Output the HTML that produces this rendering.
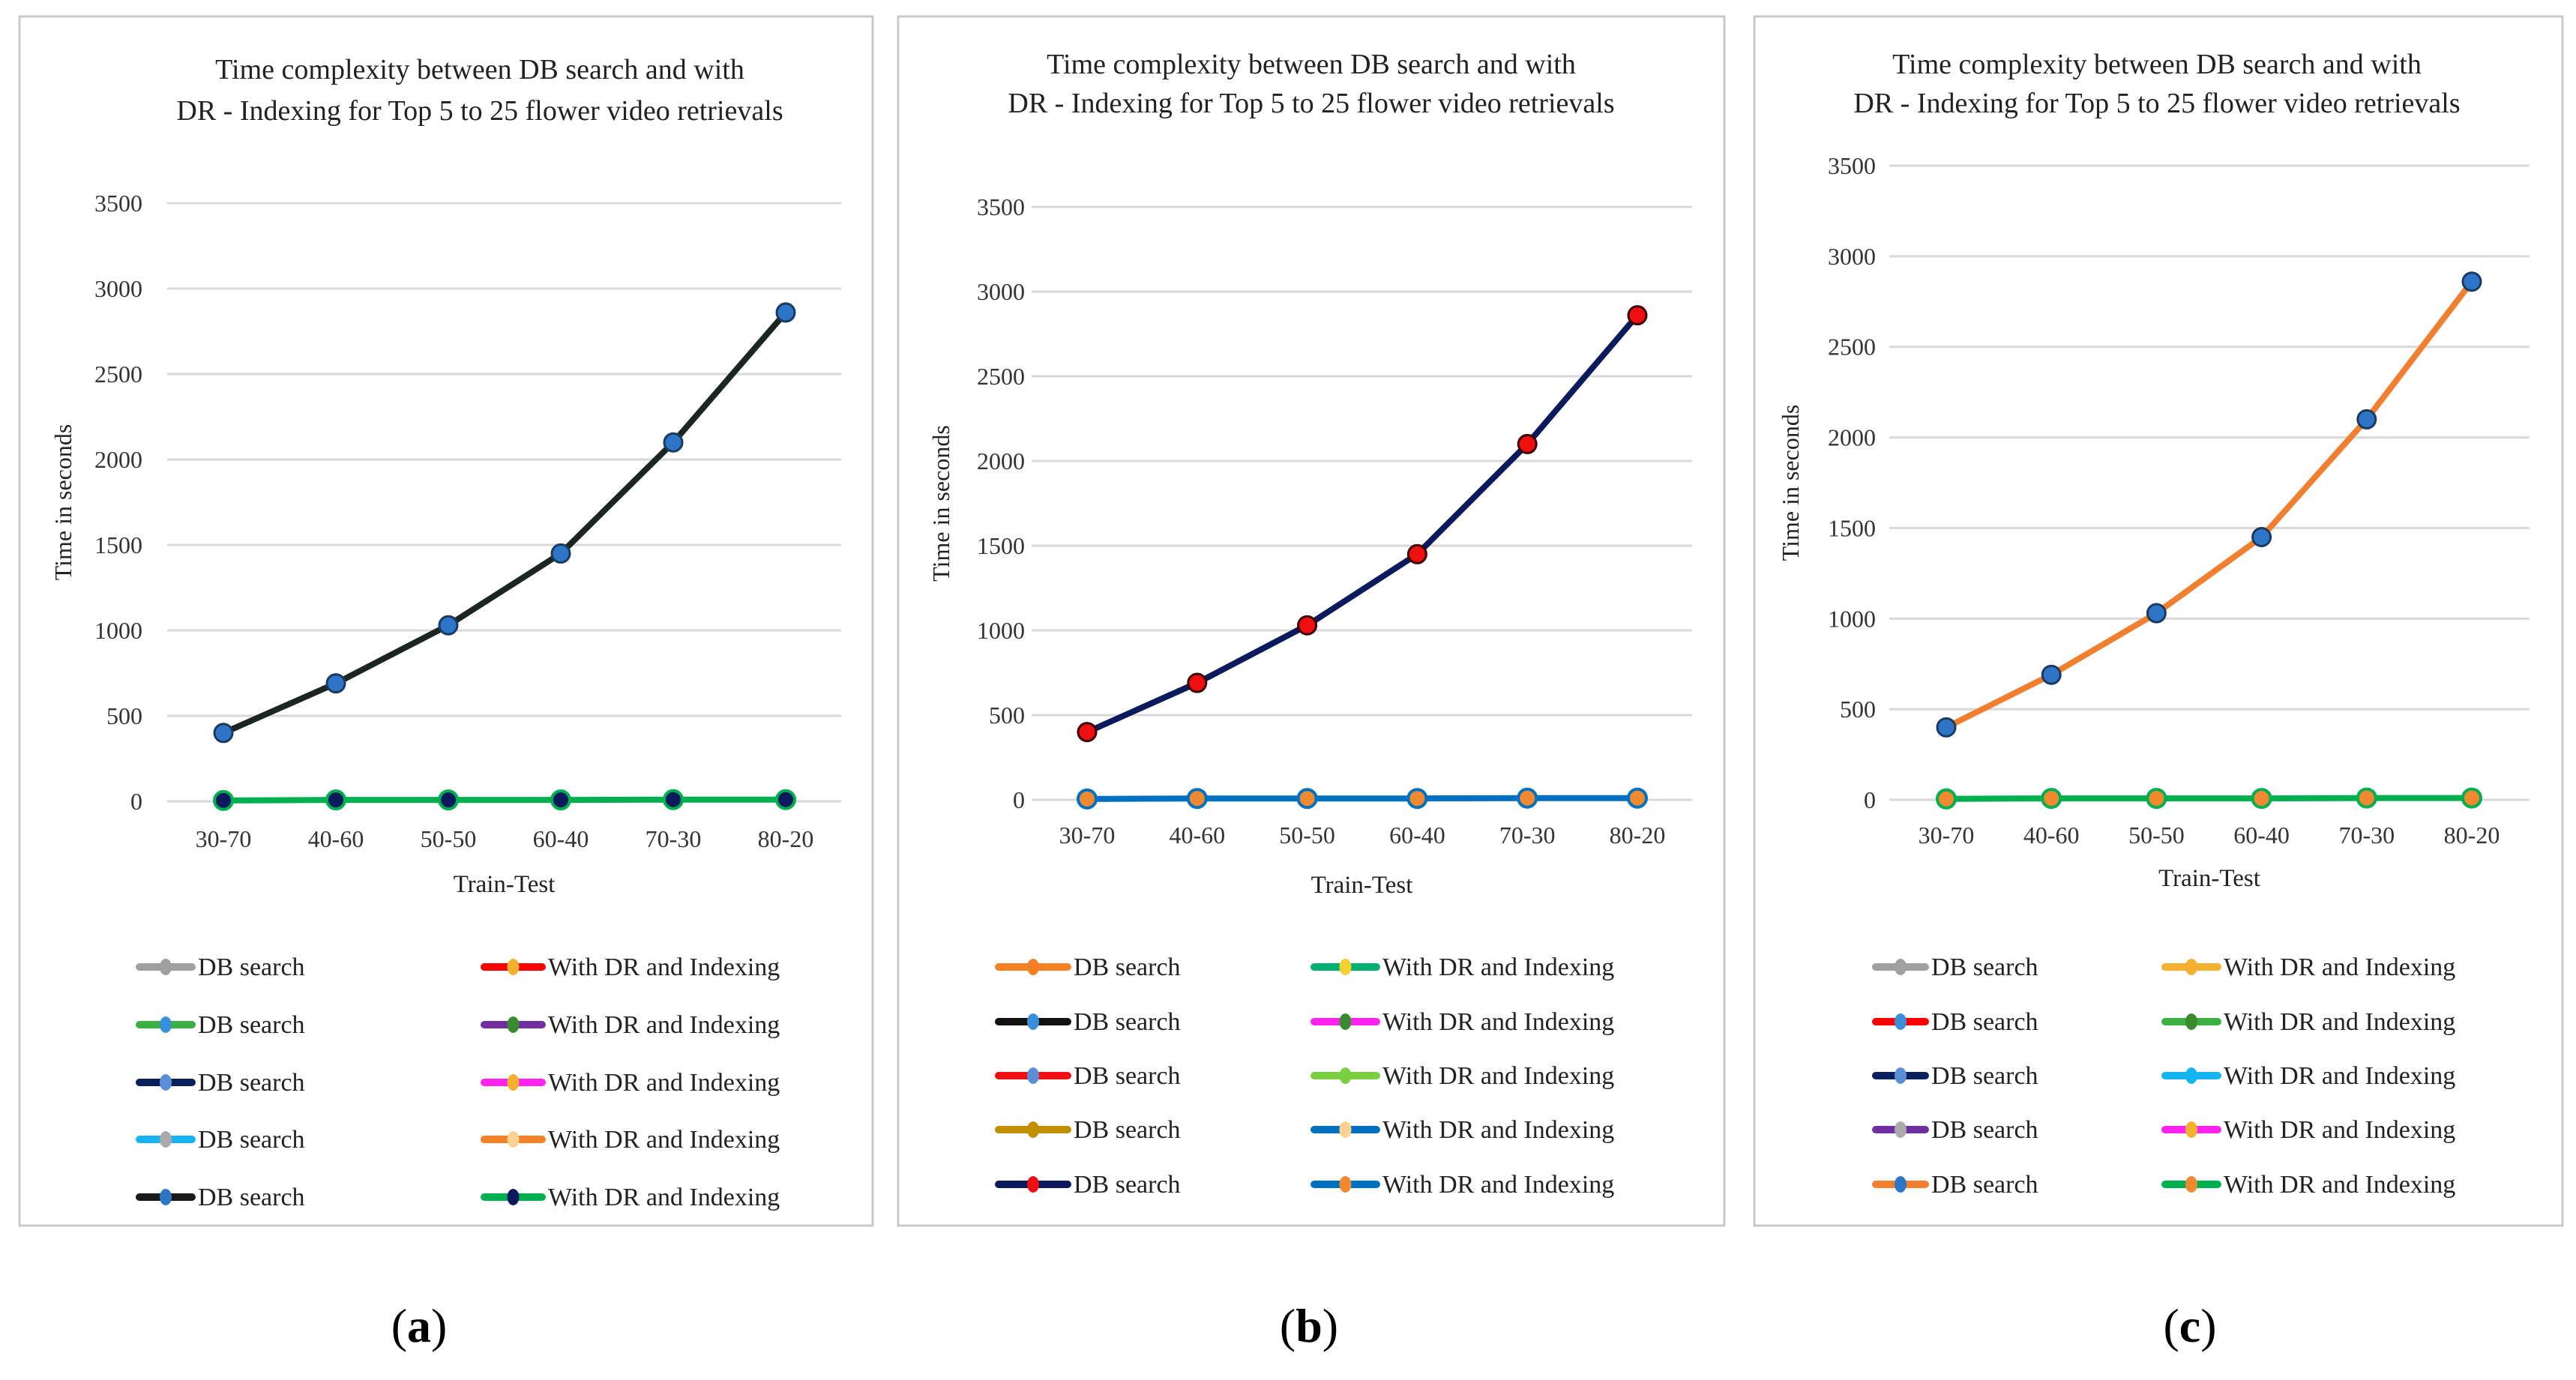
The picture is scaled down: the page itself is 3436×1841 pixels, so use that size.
<!DOCTYPE html>
<html><head><meta charset="utf-8">
<style>
body{margin:0;background:#fff;width:3436px;height:1841px;overflow:hidden;font-family:"Liberation Serif",serif;}
svg{position:absolute;left:0;top:0}
</style></head>
<body>
<svg id="fig" width="3436" height="1841" viewBox="0 0 3436 1841"></svg>
<script>
const categories=["30-70","40-60","50-50","60-40","70-30","80-20"];
const dbSearch=[400,690,1030,1450,2100,2860];
const withDR=[5,8,8,8,10,10];
const yTicks=[0,500,1000,1500,2000,2500,3000,3500];
const legendLeft=["DB search","DB search","DB search","DB search","DB search"];
const legendRight=["With DR and Indexing","With DR and Indexing","With DR and Indexing","With DR and Indexing","With DR and Indexing"];
const NS="http://www.w3.org/2000/svg";
const svg=document.getElementById('fig');
function mk(tag,attrs,parent,text){const e=document.createElementNS(NS,tag);for(const k in attrs)e.setAttribute(k,attrs[k]);if(text!==undefined)e.textContent=text;(parent||svg).appendChild(e);return e;}
const panels=[
 {id:'a',box:[26,22,1164,1635],y0:1069,y35:271,gx:[223,1122],cx:[298,1048],tx:640,ty:[105,160],tickR:190,ylx:95,xly:1130,ttl:1190,
  rows:[1290,1367,1444,1520,1597],ll:[186,256],rl:[646,723],lab:[559,1790],
  main:'#1c2620',mark:'#2e75c8',markStroke:'#1a3a60',low:'#00b050',lowMark:'#0a1a5c',
  legL:['#a0a0a0','#3cb043','#0a1f5c','#16b4f0','#1a1a1a'],legR:['#ff0000','#7030a0','#ff22ee','#f58025','#00b050'],
  legLM:['#a0a0a0','#3a8fd8','#5a8fd8','#aaaaaa','#2e75c8'],legRM:['#f5b030','#3a8a30','#f5b030','#ffd090','#0a1a5c']},
 {id:'b',box:[1198,22,2300,1635],y0:1067,y35:276,gx:[1376,2257],cx:[1450,2184],tx:1749,ty:[98,150],tickR:1367,ylx:1266,xly:1125,ttl:1191,
  rows:[1290,1363,1435,1507,1580],ll:[1332,1424],rl:[1753,1836],lab:[1746,1790],
  main:'#0a1a5c',mark:'#ee1010',markStroke:'#3a0000',low:'#0070c0',lowMark:'#f08a30',
  legL:['#f58025','#111111','#ee1010','#c09000','#0a1a5c'],legR:['#00b070','#ff22ee','#7ad040','#0070c0','#0070c0'],
  legLM:['#f58025','#3a8fd8','#5a8fd8','#c09000','#ee1010'],legRM:['#f5d030','#3a8a30','#7ad040','#ffd090','#f08a30']},
 {id:'c',box:[2340,22,3418,1635],y0:1067,y35:221,gx:[2520,3374],cx:[2596,3297],tx:2877,ty:[98,150],tickR:2502,ylx:2399,xly:1125,ttl:1182,
  rows:[1290,1363,1435,1507,1580],ll:[2502,2568],rl:[2888,2958],lab:[2921,1790],
  main:'#f08030',mark:'#2e75c8',markStroke:'#1a3a60',low:'#00b050',lowMark:'#f08a30',
  legL:['#a0a0a0','#ff0000','#0a1f5c','#7030a0','#f08030'],legR:['#f5b030','#3cb043','#16b4f0','#ff22ee','#00b050'],
  legLM:['#a0a0a0','#3a8fd8','#5a8fd8','#aaaaaa','#2e75c8'],legRM:['#f5b030','#3a8a30','#16b4f0','#f5b030','#f08a30']}
];
panels.forEach(p=>{
 const g=mk('g',{});
 
 
 const [x1,y1,x2,y2]=p.box;
 const box=mk('rect',{x:x1,y:y1,width:x2-x1,height:y2-y1,fill:'#fff',stroke:'#c8c8c8','stroke-width':3},g);
 
 
 const ys=v=>p.y0-(v/3500)*(p.y0-p.y35);
 const xs=i=>p.cx[0]+i*(p.cx[1]-p.cx[0])/(categories.length-1);
 ['Time complexity between DB search and with','DR - Indexing  for Top 5 to 25 flower video retrievals'].forEach((t,i)=>{
  const e=mk('text',{x:p.tx,y:p.ty[i],'text-anchor':'middle','font-size':38,fill:'#222'},g,t);
  
  
 });
 yTicks.forEach(v=>{
  const l=mk('line',{x1:p.gx[0],x2:p.gx[1],y1:ys(v),y2:ys(v),stroke:'#d9d9d9','stroke-width':3},g);
  
  
  const t=mk('text',{x:p.tickR,y:ys(v)+11,'text-anchor':'end','font-size':32,fill:'#333'},g,v);
  
  
 });
 const yl=mk('text',{x:p.ylx,y:(p.y0+p.y35)/2,'text-anchor':'middle','font-size':32,fill:'#222',transform:`rotate(-90 ${p.ylx} ${(p.y0+p.y35)/2})`},g,'Time in seconds');
 
 
 categories.forEach((c,i)=>{
  const t=mk('text',{x:xs(i),y:p.xly,'text-anchor':'middle','font-size':32,fill:'#333'},g,c);
  
  
 });
 const xt=mk('text',{x:(p.gx[0]+p.gx[1])/2,y:p.ttl,'text-anchor':'middle','font-size':33,fill:'#222'},g,'Train-Test');
 
 
 const lowPts=withDR.map((v,i)=>xs(i)+','+ys(v)).join(' ');
 const lowL=mk('polyline',{points:lowPts,fill:'none',stroke:p.low,'stroke-width':8},g);
 
 
 withDR.forEach((v,i)=>{
  const m=mk('circle',{cx:xs(i),cy:ys(v),r:12,fill:p.lowMark,stroke:p.low,'stroke-width':4},g);
  
  
 });
 const pts=dbSearch.map((v,i)=>xs(i)+','+ys(v)).join(' ');
 const ml=mk('polyline',{points:pts,fill:'none',stroke:p.main,'stroke-width':8,'stroke-linejoin':'round'},g);
 
 
 dbSearch.forEach((v,i)=>{
  const m=mk('circle',{cx:xs(i),cy:ys(v),r:12,fill:p.mark,stroke:p.markStroke,'stroke-width':3},g);
  
  
 });
 p.rows.forEach((ry,i)=>{
  [[p.ll,p.legL[i],p.legLM[i],legendLeft[i]],[p.rl,p.legR[i],p.legRM[i],legendRight[i]]].forEach(([lx,col,mcol,txt])=>{
   const lg=mk('g',{},g);
   
   
   mk('line',{x1:lx[0],x2:lx[1],y1:ry,y2:ry,stroke:col,'stroke-width':10,'stroke-linecap':'round'},lg);
   mk('ellipse',{cx:(lx[0]+lx[1])/2,cy:ry,rx:8,ry:11,fill:mcol},lg);
   mk('text',{x:lx[1]+8,y:ry+11,'font-size':34,fill:'#222'},lg,txt);
  });
 });
 const lab=mk('text',{x:p.lab[0],y:p.lab[1],'text-anchor':'middle','font-size':64,fill:'#000'},svg);
 mk('tspan',{},lab,'(');
 mk('tspan',{'font-weight':'bold'},lab,p.id);
 mk('tspan',{},lab,')');
 
 
});
</script>
</body></html>
